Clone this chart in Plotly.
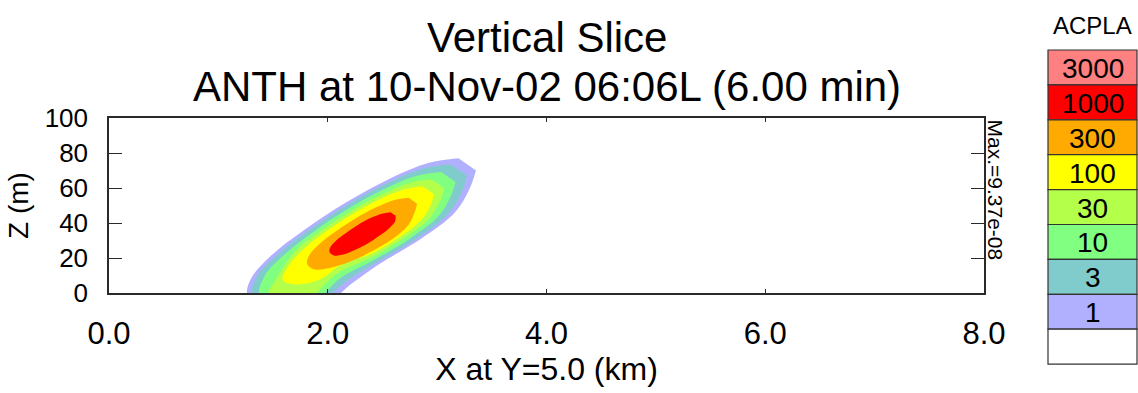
import plotly.graph_objects as go

# ---------------- data ----------------
# concentration levels shown in the key (top box = highest)
LEVELS = [1, 3, 10, 30, 100, 300, 1000, 3000]
LEVEL_LABELS = ["1", "3", "10", "30", "100", "300", "1000", "3000"]
LEVEL_COLORS = ["#B0B0FF", "#80CCCC", "#80FF80", "#B4FF4A",
                "#FFFF00", "#FFAA00", "#FF0000", "#FF8080"]

# contour outlines of each filled level: X (km) and Z (m)
X_1 = [3.355, 3.297, 3.164, 2.856, 2.465, 2.219, 2.018, 1.653, 1.271, 1.295, 1.476, 1.784, 2.166, 2.566, 2.924, 3.195]
Z_1 = [70.0, 59.6, 46.1, 31.1, 16.3, 5.4, -4.3, -6.0, -1.4, 7.8, 21.0, 36.0, 51.7, 65.3, 74.4, 77.0]

X_3 = [3.272, 3.224, 3.096, 2.813, 2.453, 2.164, 1.945, 1.607, 1.315, 1.352, 1.543, 1.826, 2.179, 2.546, 2.876, 3.124]
Z_3 = [67.1, 57.6, 45.0, 31.2, 17.7, 6.6, -3.7, -4.3, -0.9, 9.5, 22.0, 35.8, 50.3, 62.8, 71.2, 73.5]

X_10 = [3.168, 3.123, 3.012, 2.759, 2.438, 2.110, 1.909, 1.607, 1.379, 1.425, 1.627, 1.880, 2.194, 2.521, 2.816, 3.037]
Z_10 = [63.4, 55.0, 43.8, 31.5, 19.4, 8.3, -2.6, -3.2, -0.9, 10.0, 23.2, 35.5, 48.4, 59.6, 67.0, 69.2]

X_30 = [3.066, 3.027, 2.927, 2.706, 2.424, 2.073, 1.836, 1.653, 1.461, 1.525, 1.712, 1.933, 2.209, 2.497, 2.755, 2.950]
Z_30 = [59.8, 52.4, 42.6, 31.7, 21.1, 10.6, -2.6, -3.2, -0.9, 7.7, 24.5, 35.3, 46.6, 56.4, 63.0, 64.8]

X_100 = [2.972, 2.941, 2.851, 2.658, 2.411, 2.128, 1.927, 1.717, 1.589, 1.644, 1.788, 1.982, 2.223, 2.475, 2.701, 2.870]
Z_100 = [56.5, 50.1, 41.4, 32.0, 22.7, 16.3, 7.7, 4.9, 7.4, 15.8, 25.6, 35.1, 45.0, 53.6, 59.3, 60.9]

X_300 = [2.816, 2.795, 2.735, 2.589, 2.402, 2.201, 2.018, 1.881, 1.813, 1.827, 1.914, 2.062, 2.246, 2.438, 2.610, 2.740]
Z_300 = [51.0, 46.1, 38.7, 30.7, 23.8, 17.8, 14.3, 13.5, 16.3, 21.1, 27.5, 34.7, 42.3, 48.8, 53.2, 54.4]

X_1000 = [2.620, 2.616, 2.564, 2.475, 2.362, 2.242, 2.134, 2.055, 2.016, 2.023, 2.075, 2.164, 2.275, 2.391, 2.495, 2.574]
Z_1000 = [44.1, 41.0, 37.2, 32.8, 28.1, 24.4, 21.8, 21.5, 23.4, 26.1, 29.9, 34.2, 38.8, 42.8, 45.3, 46.1]

X_TICKS = [0, 2, 4, 6, 8]
X_TICK_LABELS = ["0.0", "2.0", "4.0", "6.0", "8.0"]
Z_TICKS = [0, 20, 40, 60, 80, 100]

TITLE_1 = "Vertical Slice"
TITLE_2 = "ANTH at 10-Nov-02 06:06L (6.00 min)"
X_TITLE = "X at Y=5.0 (km)"
Z_TITLE = "Z (m)"
KEY_TITLE = "ACPLA"
MAX_TEXT = "Max.=9.37e-08"

OUTLINES = [(1, X_1, Z_1), (3, X_3, Z_3), (10, X_10, Z_10), (30, X_30, Z_30),
            (100, X_100, Z_100), (300, X_300, Z_300), (1000, X_1000, Z_1000)]

# ---------------- layout constants ----------------
W, H = 1138, 393
ML, MR, MT, MB = 109, 154, 118, 100
PW, PH = W - ML - MR, H - MT - MB
FONT = "Liberation Sans, Arial, sans-serif"
AXIS_COLOR = "#2a2a2a"


def fx(px):
    return (px - ML) / PW


def fy(py):
    return (H - MB - py) / PH


fig = go.Figure()

for lvl, xs, zs in OUTLINES:
    color = LEVEL_COLORS[LEVELS.index(lvl)]
    fig.add_trace(go.Scatter(
        x=xs, y=zs, mode="lines", fill="toself", fillcolor=color,
        line=dict(width=0, shape="spline", smoothing=1.0, color=color),
        hoverinfo="skip", showlegend=False, name=str(lvl)))

shapes = []
annotations = []

# key boxes (top = highest level), plus white "below 1" box
key_left, key_right, key_top, box_h = 1048, 1137, 50, 34.9
key_entries = [(LEVEL_COLORS[i], LEVEL_LABELS[i]) for i in range(len(LEVELS) - 1, -1, -1)]
key_entries.append(("#FFFFFF", ""))
for k, (col, lab) in enumerate(key_entries):
    t = key_top + k * box_h
    b = t + box_h
    shapes.append(dict(type="rect", xref="paper", yref="paper",
                       x0=fx(key_left), x1=fx(key_right), y0=fy(b), y1=fy(t),
                       fillcolor=col, line=dict(color="#333333", width=1.2), layer="above"))
    if lab:
        annotations.append(dict(text=lab, xref="paper", yref="paper",
                                x=fx((key_left + key_right) / 2), y=fy(t + box_h / 2 + 1),
                                xanchor="center", yanchor="middle", showarrow=False,
                                font=dict(family=FONT, size=28, color="black")))

annotations.append(dict(text=KEY_TITLE, xref="paper", yref="paper",
                        x=fx(1092), y=fy(25), xanchor="center", yanchor="middle",
                        showarrow=False, font=dict(family=FONT, size=24, color="black")))

annotations.append(dict(text=TITLE_1, xref="paper", yref="paper",
                        x=0.5, y=fy(37), xanchor="center", yanchor="middle",
                        showarrow=False, font=dict(family=FONT, size=42, color="black")))
annotations.append(dict(text=TITLE_2, xref="paper", yref="paper",
                        x=0.5, y=fy(86), xanchor="center", yanchor="middle",
                        showarrow=False, font=dict(family=FONT, size=42, color="black")))

annotations.append(dict(text=MAX_TEXT, xref="paper", yref="paper",
                        x=fx(995), y=fy(117), xanchor="center", yanchor="top",
                        textangle=90, showarrow=False,
                        font=dict(family=FONT, size=21, color="black")))

fig.update_layout(
    width=W, height=H, autosize=False,
    margin=dict(l=ML, r=MR, t=MT, b=MB, pad=0),
    paper_bgcolor="white", plot_bgcolor="white",
    font=dict(family=FONT, color="black"),
    shapes=shapes, annotations=annotations,
    xaxis=dict(range=[0, 8], tickvals=X_TICKS, ticktext=X_TICK_LABELS,
               showgrid=False, zeroline=False, showline=True, linecolor=AXIS_COLOR,
               linewidth=1.5, mirror="ticks", ticks="inside", ticklen=4,
               tickwidth=1.2, tickcolor=AXIS_COLOR, ticklabelstandoff=12,
               tickfont=dict(family=FONT, size=31, color="black"),
               title=dict(text=X_TITLE, standoff=8,
                          font=dict(family=FONT, size=32, color="black"))),
    yaxis=dict(range=[0, 100], tickvals=Z_TICKS,
               showgrid=False, zeroline=False, showline=True, linecolor=AXIS_COLOR,
               linewidth=1.5, mirror="ticks", ticks="inside", ticklen=13,
               tickwidth=1.2, tickcolor=AXIS_COLOR, ticklabelstandoff=14,
               tickfont=dict(family=FONT, size=26, color="black"),
               title=dict(text=Z_TITLE, standoff=8,
                          font=dict(family=FONT, size=28, color="black"))),
)

fig.write_html("out.html", config={"displayModeBar": False},
               post_script="document.body.style.margin='0px';document.body.style.overflow='hidden';")
